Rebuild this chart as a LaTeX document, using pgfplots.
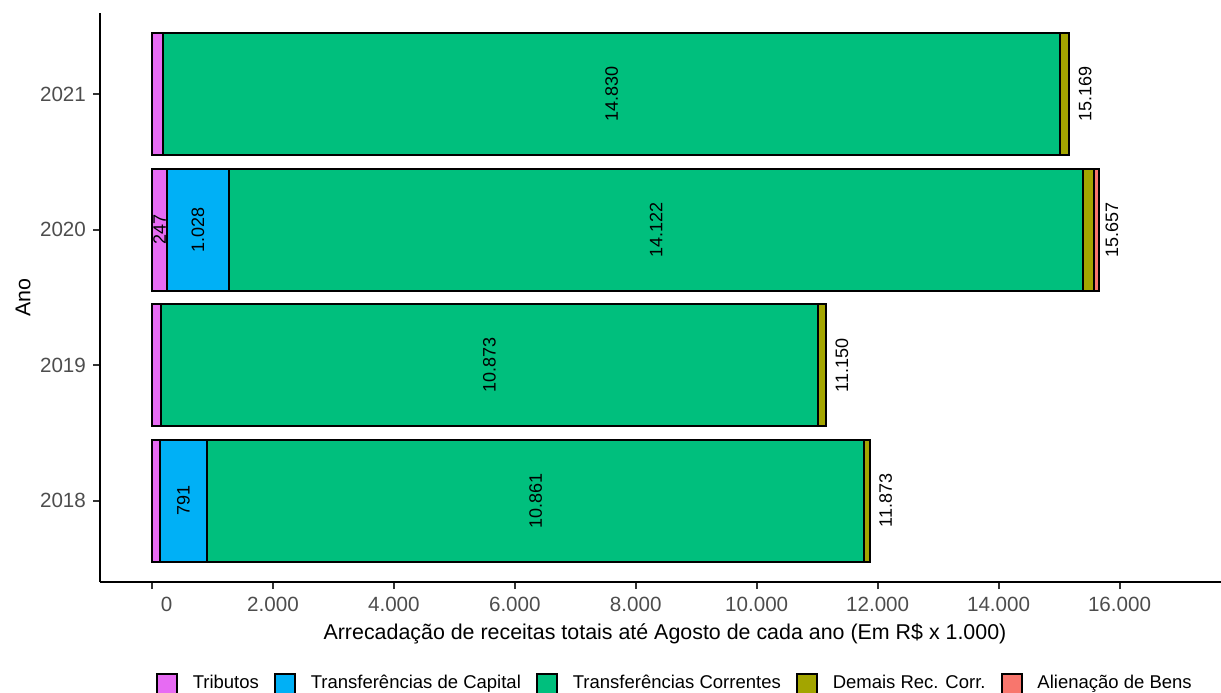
\documentclass[border=0pt]{standalone}
\usepackage{pgfplots}
\pgfplotsset{compat=1.18}
\usepackage{pgfplotstable}
\usepackage{fontspec}
\setmainfont{Liberation Sans}
\definecolor{cTrib}{HTML}{E76BF3}
\definecolor{cCap}{HTML}{00B0F6}
\definecolor{cCor}{HTML}{00BF7D}
\definecolor{cDem}{HTML}{A3A500}
\definecolor{cAli}{HTML}{F8766D}
\definecolor{gray30}{HTML}{4D4D4D}
\definecolor{gray20}{HTML}{333333}

% y: 0=2018, 1=2019, 2=2020, 3=2021
\pgfplotstableread{
y v lab
0 125 {}
1 145 {}
2 247 247
3 185 {}
}\tabTrib
\pgfplotstableread{
y v lab
0 791 791
1 0 {}
2 1028 1.028
3 0 {}
}\tabCap
\pgfplotstableread{
y v lab
0 10861 10.861
1 10873 10.873
2 14122 14.122
3 14830 14.830
}\tabCor
\pgfplotstableread{
y v lab
0 96 {}
1 132 {}
2 173 {}
3 154 {}
}\tabDem
\pgfplotstableread{
y v lab
0 0.01 11.873
1 0.01 11.150
2 87 15.657
3 0.01 15.169
}\tabAli

\pgfplotsset{
  keylegend/.style={legend image code/.code={\draw[##1,draw=black,line width=1pt] (0pt,-5pt) rectangle (10pt,5pt);}},
  midlab/.style={nodes near coords, point meta=explicit symbolic,
    nodes near coords style={rotate=90, anchor=center, inner sep=0pt,
      font=\fontsize{9}{10}\selectfont, text=black}},
  totlab/.style={nodes near coords, point meta=explicit symbolic,
    nodes near coords style={xshift=4.2pt, rotate=90, anchor=north, inner sep=0pt,
      font=\fontsize{9}{10}\selectfont, text=black}},
}

\begin{document}
\begin{tikzpicture}
\useasboundingbox (-50.25pt,-55pt) rectangle (560.25pt,291pt);
\begin{axis}[
  at={(0,0)}, anchor=south west,
  scale only axis, width=560.25pt, height=284.5pt,
  xmin=-851.7, xmax=17678, ymin=-0.6, ymax=3.6,
  xbar stacked, bar width=0.9,
  axis lines*=left,
  axis line style={black, line width=1pt},
  tick align=outside,
  major tick length=3.5pt,
  tick style={gray20, line width=1pt},
  scaled x ticks=false,
  xtick={0,2000,4000,6000,8000,10000,12000,14000,16000},
  xticklabels={\hspace*{14.7pt}0,2.000,4.000,6.000,8.000,10.000,12.000,14.000,16.000},
  ytick={0,1,2,3},
  yticklabels={2018,2019,2020,2021},
  xticklabel style={font=\fontsize{10.3}{12}\selectfont, text=gray30, anchor=base, yshift=-11.35pt},
  yticklabel style={font=\fontsize{10.3}{12}\selectfont, text=gray30, anchor=east, inner xsep=0pt, xshift=-3.6pt},
  xlabel={Arrecadação de receitas totais até Agosto de cada ano (Em R\$ x 1.000)},
  xlabel style={at={(axis description cs:0.5038,-0.1002)}, anchor=base, font=\fontsize{10.7}{12}\selectfont},
  ylabel={Ano},
  ylabel style={at={(axis description cs:-0.06917,0.5)}, anchor=center, font=\fontsize{10.7}{12}\selectfont},
  legend columns=5,
  legend style={at={(0.5118,-0.1784)}, anchor=center, draw=none, fill=none,
    font=\fontsize{9.25}{10}\selectfont, inner sep=0pt,
    nodes={inner xsep=0pt, inner ysep=1pt},
    /tikz/every odd column/.append style={column sep=7.3pt},
    /tikz/every even column/.append style={column sep=7.65pt}},
]
\addplot[fill=cTrib, draw=black, line width=1pt, keylegend, midlab] table[x=v, y=y, meta=lab] {\tabTrib};
\addlegendentry{Tributos}
\addplot[fill=cCap, draw=black, line width=1pt, keylegend, midlab] table[x=v, y=y, meta=lab] {\tabCap};
\addlegendentry{Transferências de Capital}
\addplot[fill=cCor, draw=black, line width=1pt, keylegend, midlab] table[x=v, y=y, meta=lab] {\tabCor};
\addlegendentry{Transferências Correntes}
\addplot[fill=cDem, draw=black, line width=1pt, keylegend, midlab] table[x=v, y=y, meta=lab] {\tabDem};
\addlegendentry{Demais Rec. Corr.}
\addplot[fill=cAli, draw=black, line width=1pt, keylegend, totlab] table[x=v, y=y, meta=lab] {\tabAli};
\addlegendentry{Alienação de Bens}
\end{axis}
\end{tikzpicture}
\end{document}
